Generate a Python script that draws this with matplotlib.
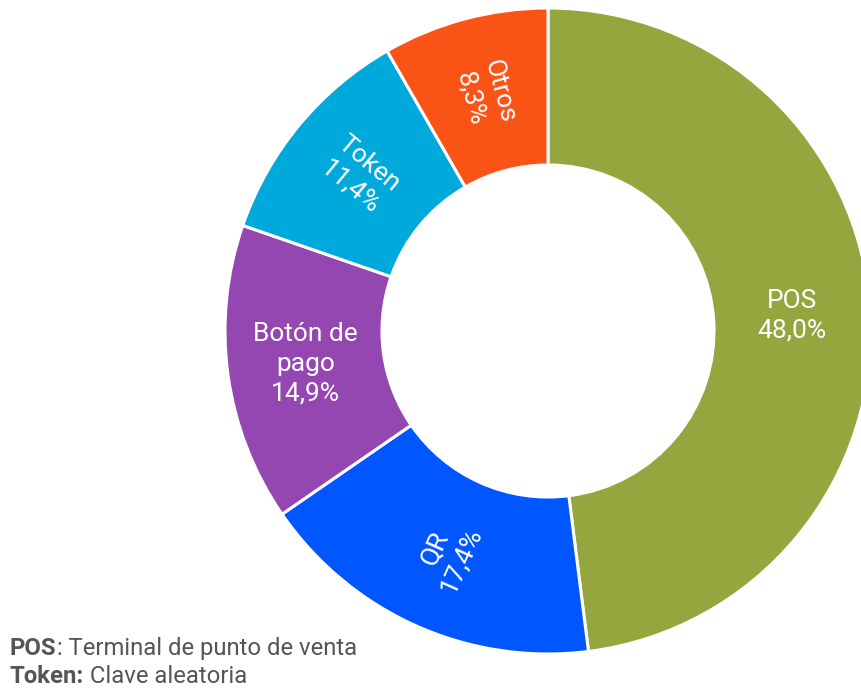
import matplotlib
matplotlib.use("Agg")
import matplotlib.pyplot as plt
import numpy as np

plt.rcParams["font.family"] = ["Roboto", "DejaVu Sans"]

categories = ["POS", "QR", "Botón de\npago", "Token", "Otros"]
values = [48.0, 17.4, 14.9, 11.4, 8.3]
colors = ["#96A63E", "#0057FF", "#9547B1", "#00A9DC", "#F95316"]

notes = [("POS", ": Terminal de punto de venta"),
         ("Token:", " Clave aleatoria")]

fig = plt.figure(figsize=(8.62, 6.91), dpi=100)
ax = fig.add_axes([0, 0, 1, 1])

wedges, _ = ax.pie(values, colors=colors, startangle=90, counterclock=False,
                   radius=1, wedgeprops=dict(width=0.486, edgecolor="white",
                                             linewidth=2.2))
ax.set_xlim(-548 / 323, (862 - 548) / 323)
ax.set_ylim(-(691 - 331) / 323, 331 / 323)
ax.axis("off")

r_lab = 0.757
for w, cat, v in zip(wedges, categories, values):
    ang = (w.theta1 + w.theta2) / 2
    x = r_lab * np.cos(np.radians(ang))
    y = r_lab * np.sin(np.radians(ang))
    rot = ang % 360 - 180
    if rot > 90:
        rot -= 180
    elif rot < -90:
        rot += 180
    if abs(rot) < 15:
        rot = 0
    txt = f"{cat}\n{v:.1f}%".replace(".", ",")
    ax.text(x, y, txt, ha="center", va="center", rotation=rot,
            rotation_mode="anchor", color="white", fontsize=19,
            linespacing=1.3)

# notas al pie
for i, (b, rest) in enumerate(notes):
    t = fig.text(10 / 862, (691 - 655 - i * 28) / 691, b, fontsize=17.2,
                 fontweight="bold", color="#555555", va="baseline")
    ax.annotate(rest, xy=(1, 0), xycoords=t, va="bottom", ha="left",
                fontsize=17.2, color="#555555")

fig.savefig("out.png", dpi=100)
